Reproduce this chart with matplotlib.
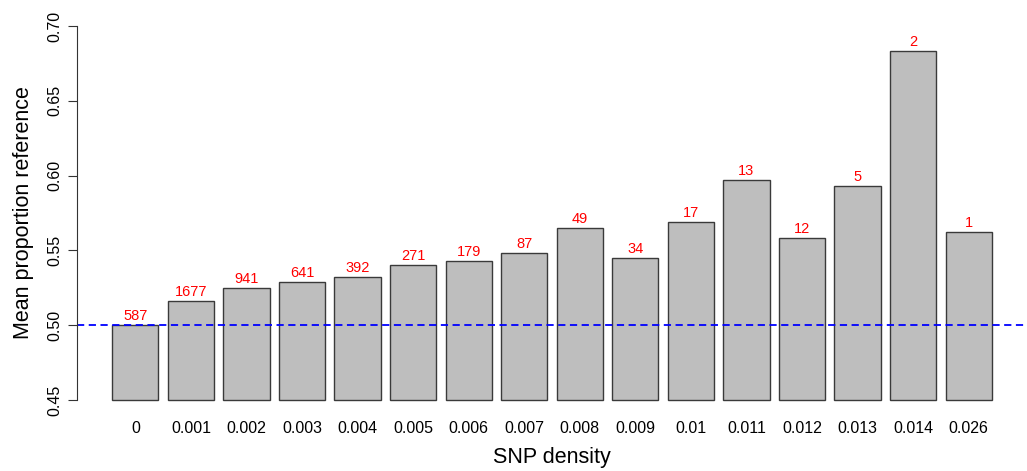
import matplotlib.pyplot as plt
import numpy as np

plt.rcParams['font.family'] = ['Liberation Sans', 'DejaVu Sans']

# SNP density bins, mean proportion reference, and counts per bin
density = ["0", "0.001", "0.002", "0.003", "0.004", "0.005", "0.006", "0.007",
           "0.008", "0.009", "0.01", "0.011", "0.012", "0.013", "0.014", "0.026"]
mean_ref = [0.500, 0.5162, 0.5247, 0.5287, 0.5325, 0.5401, 0.5430, 0.5485,
            0.5648, 0.5448, 0.5689, 0.5971, 0.5584, 0.5931, 0.6834, 0.5624]
counts = [587, 1677, 941, 641, 392, 271, 179, 87, 49, 34, 17, 13, 12, 5, 2, 1]

base = 0.45

fig = plt.figure(figsize=(10.27, 4.71), dpi=100)
ax = fig.add_axes([77 / 1027, 1 - 415 / 471, 1 - 77 / 1027, (415 - 11) / 471])

# R barplot layout: width 1, space 0.2
x = 0.2 + 1.2 * np.arange(len(density)) + 0.5
heights = np.array(mean_ref) - base
ax.bar(x, heights, bottom=base, width=1.0, color="#bebebe",
       edgecolor="#3a3a3a", linewidth=1.0)

for xi, yi, c in zip(x, mean_ref, counts):
    ax.annotate(str(c), (xi, yi), xytext=(0, 1.5), textcoords="offset points",
                ha="center", va="bottom", color="red", fontsize=10.5)

ax.axhline(0.5, color="blue", linestyle=(0, (4, 2.5)), linewidth=1.3)

ax.set_xlim(-0.56, 19.96)
ax.set_ylim(0.44, 0.71)

ax.set_yticks([0.45, 0.50, 0.55, 0.60, 0.65, 0.70])
ax.set_yticklabels(["0.45", "0.50", "0.55", "0.60", "0.65", "0.70"],
                   rotation=90, va="center", fontsize=11.5)
ax.tick_params(axis="y", length=6.5, width=0.8, color="#333333", pad=4)

ax.set_xticks(x)
ax.set_xticklabels(density, fontsize=11.5)
ax.tick_params(axis="x", length=0, pad=4)

for s in ["top", "right", "bottom"]:
    ax.spines[s].set_visible(False)
ax.spines["left"].set_bounds(0.45, 0.70)
ax.spines["left"].set_color("#333333")
ax.spines["left"].set_linewidth(0.8)

ax.set_xlabel("SNP density", fontsize=15.5, labelpad=8)
ax.set_ylabel("Mean proportion reference", fontsize=15.5, labelpad=10)

fig.savefig("out.png", dpi=100)
